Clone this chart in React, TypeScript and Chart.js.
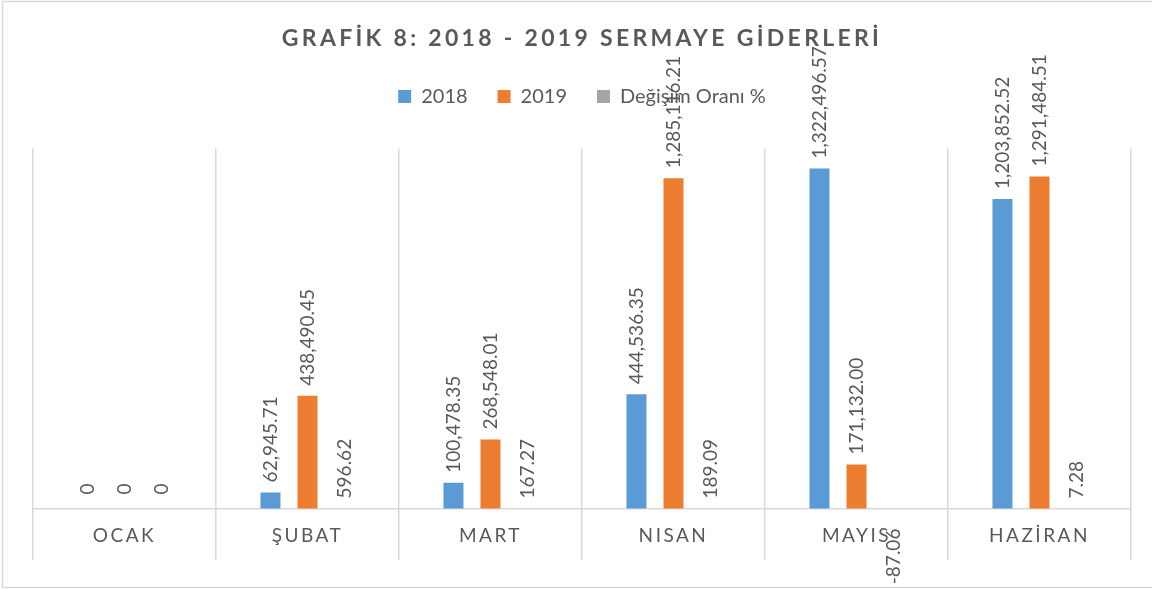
import React, { useEffect, useRef } from 'react';
import { Chart, registerables } from 'chart.js';

Chart.register(...registerables);

const categories = ['OCAK', 'ŞUBAT', 'MART', 'NISAN', 'MAYIS', 'HAZİRAN'];
const values2018 = [0, 62945.71, 100478.35, 444536.35, 1322496.57, 1203852.52];
const values2019 = [0, 438490.45, 268548.01, 1285116.21, 171132.0, 1291484.51];
const changeRate = [0, 596.62, 167.27, 189.09, -87.06, 7.28];
const seriesNames = ['2018', '2019', 'Değişim Oranı %'];
const seriesColors = ['#5B9BD5', '#ED7D31', '#A5A5A5'];
const titleText = 'GRAFİK 8: 2018 - 2019 SERMAYE GİDERLERİ';

const TEXT = '#595959';
const GRID = '#D9D9D9';
const FONT = 'Lato';

const fmt = (v: number) =>
  v === 0 ? '0' : v.toLocaleString('en-US', { minimumFractionDigits: 2, maximumFractionDigits: 2 });

const framePlugin = {
  id: 'frame',
  beforeDraw(chart: any) {
    const ctx = chart.ctx;
    ctx.save();
    ctx.strokeStyle = GRID;
    ctx.lineWidth = 1.5;
    ctx.strokeRect(2.5, 1.5, 1200, 586);
    ctx.restore();
  },
};

const spacingPlugin = {
  id: 'letterSpacing',
  beforeDraw(chart: any) {
    const wrap = (obj: any, key: string, spacing: string) => {
      if (!obj || obj['__ls_' + key]) return;
      const orig = obj[key].bind(obj);
      obj[key] = (...args: any[]) => {
        const ctx = chart.ctx as any;
        ctx.save();
        ctx.letterSpacing = spacing;
        orig(...args);
        ctx.restore();
      };
      obj['__ls_' + key] = true;
    };
    wrap(chart.titleBlock, 'draw', '3.3px');
    wrap(chart.scales.x, 'drawLabels', '2.5px');
  },
};

const dataLabelPlugin = {
  id: 'barValueLabels',
  afterDatasetsDraw(chart: any) {
    const ctx = chart.ctx as any;
    ctx.save();
    ctx.letterSpacing = '0px';
    ctx.font = `19px ${FONT}`;
    ctx.fillStyle = TEXT;
    ctx.textBaseline = 'middle';
    chart.data.datasets.forEach((ds: any, di: number) => {
      const meta = chart.getDatasetMeta(di);
      meta.data.forEach((el: any, i: number) => {
        const v = ds.data[i] as number;
        const neg = v < 0;
        ctx.save();
        ctx.translate(el.x, neg ? el.y + 20 : el.y - (v === 0 ? 14 : 10));
        ctx.rotate(-Math.PI / 2);
        ctx.textAlign = neg ? 'right' : 'left';
        ctx.fillText(fmt(v), 0, 0);
        ctx.restore();
      });
    });
    ctx.restore();
  },
};

export default function App() {
  const ref = useRef<HTMLCanvasElement>(null);
  useEffect(() => {
    const seriesValues = [values2018, values2019, changeRate];
    const chart = new Chart(ref.current as HTMLCanvasElement, {
      type: 'bar',
      data: {
        labels: categories,
        datasets: seriesNames.map((name, i) => ({
          label: name,
          data: seriesValues[i],
          backgroundColor: seriesColors[i],
          borderWidth: 0,
          xAxisID: 'x',
          yAxisID: 'y',
        })),
      },
      plugins: [framePlugin, spacingPlugin, dataLabelPlugin],
      options: {
        responsive: false,
        animation: false,
        layout: { padding: { left: 33, right: 21, top: 0, bottom: 29 } },
        datasets: { bar: { categoryPercentage: 0.607, barPercentage: 0.54 } },
        plugins: {
          title: {
            display: true,
            text: titleText,
            color: TEXT,
            font: { size: 23, weight: 'bold', family: FONT },
            padding: { top: 25, bottom: 4 },
          },
          legend: {
            display: true,
            position: 'top',
            labels: {
              boxWidth: 13,
              boxHeight: 13,
              padding: 30,
              color: TEXT,
              font: { size: 20, family: FONT },
            },
          },
          tooltip: { enabled: false },
        },
        scales: {
          x: {
            type: 'category',
            position: { y: 0 },
            offset: true,
            grid: { display: true, offset: true, color: GRID, lineWidth: 1.5, drawTicks: false },
            border: { display: true, color: GRID, width: 1.5 },
            ticks: {
              color: TEXT,
              font: { size: 19, family: FONT },
              padding: 16,
              maxRotation: 0,
              autoSkip: false,
            },
          },
          spacer: {
            type: 'category',
            axis: 'x',
            position: 'top',
            display: true,
            grid: { display: false },
            border: { display: false },
            ticks: { display: false },
            afterFit: (s: any) => {
              s.height = 32;
            },
          },
          y: { type: 'linear', display: false, min: -200000, max: 1400000 },
        },
      } as any,
    } as any);
    return () => chart.destroy();
  }, []);
  return (
    <div style={{ position: 'absolute', left: 0, top: 0, width: 1152, height: 589, background: '#fff' }}>
      <canvas ref={ref} width={1152} height={589} style={{ display: 'block' }} />
    </div>
  );
}
